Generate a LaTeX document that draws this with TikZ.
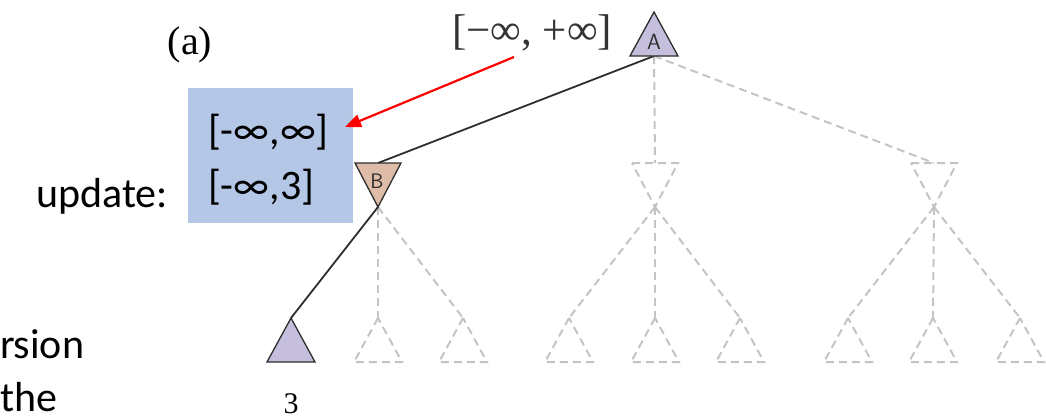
\documentclass[tikz,border=0pt]{standalone}
\usepackage{fontspec}
\setmainfont{Liberation Serif}
\newfontfamily\calfont{Carlito}
\usetikzlibrary{arrows.meta}
\definecolor{lav}{RGB}{198,190,221}
\definecolor{tan}{RGB}{222,188,168}
\definecolor{dgray}{RGB}{196,196,196}
\definecolor{boxblue}{RGB}{180,199,231}
\definecolor{edgec}{RGB}{45,45,45}
\tikzset{
  solidedge/.style={draw=edgec,line width=1.8pt},
  dashedge/.style={draw=dgray,line width=2pt,dash pattern=on 8pt off 5pt},
  trisolid/.style={draw=edgec,line width=1.3pt,line join=miter},
  tridash/.style={dashedge},
  lbl/.style={inner sep=0pt,outer sep=0pt},
  caltext/.style={lbl,font=\calfont\fontsize{42}{42}\selectfont},
}
% up triangle: name, cx, apex y, style
\newcommand\uptri[4]{%
  \path[#4] (#2,#3) -- (#2-24,#3+44) -- (#2+24,#3+44) -- cycle;
  \coordinate (#1) at (#2,#3);
  \coordinate (#1-b) at (#2,#3+44);
}
% down triangle: name, cx, top y, style
\newcommand\dntri[4]{%
  \path[#4] (#2-23,#3) -- (#2+23,#3) -- (#2,#3+44) -- cycle;
  \coordinate (#1-t) at (#2,#3);
  \coordinate (#1) at (#2,#3+44);
}
\begin{document}
\begin{tikzpicture}[x=1pt,y=-1pt]
\useasboundingbox (0,0) rectangle (1046,418);
% box
\node[fill=boxblue,minimum width=165pt,minimum height=135pt,inner sep=0pt,anchor=north west] (box) at (188,88) {};
\node[caltext,anchor=base west] (v1) at (208,144) {[-∞,∞]};
\node[caltext,anchor=base west] (v2) at (208,199) {[-∞,3]};
\node[caltext,anchor=base east] (upd) at (168,207) {update:};
\node[caltext,anchor=base west] (t1) at (0,358) {rsion};
\node[caltext,anchor=base west] (t2) at (0,411) {the};
\node[lbl,font=\fontsize{40}{40}\selectfont] (cap) at (190,45) {(a)};
\node[lbl,anchor=base,font=\fontsize{43}{43}\selectfont,text=black!80] (ab) at (532,44) {[−∞, +∞]};
% edge end points
\coordinate (Ab) at (654,56);
\coordinate (Bt) at (378,163);
\coordinate (Mt) at (655,163);
\coordinate (Rt) at (934,163);
\coordinate (Bx) at (378,207);
\coordinate (Mx) at (655,207);
\coordinate (Rx) at (934,207);
\coordinate (L1) at (291,318);
\coordinate (L2) at (378,318);
\coordinate (L3) at (463,318);
\coordinate (L4) at (569,318);
\coordinate (L5) at (655,318);
\coordinate (L6) at (740,318);
\coordinate (L7) at (848,318);
\coordinate (L8) at (933,318);
\coordinate (L9) at (1020,318);
\draw[dashedge] (Ab) -- (Mt);
\draw[dashedge] (Ab) -- (Rt);
\draw[dashedge] (Bx) -- (L2);
\draw[dashedge] (Bx) -- (L3);
\draw[dashedge] (Mx) -- (L4);
\draw[dashedge] (Mx) -- (L5);
\draw[dashedge] (Mx) -- (L6);
\draw[dashedge] (Rx) -- (L7);
\draw[dashedge] (Rx) -- (L8);
\draw[dashedge] (Rx) -- (L9);
\draw[solidedge] (Ab) -- (Bt);
\draw[solidedge] (Bx) -- (L1);
% triangles
\uptri{A}{654}{12}{trisolid,fill=lav}
\node[lbl,font=\sffamily\fontsize{22}{22}\selectfont,text=edgec] (Alab) at (654,42) {A};
\dntri{B}{378}{163}{trisolid,fill=tan}
\node[lbl,font=\sffamily\fontsize{21}{21}\selectfont,text=edgec] (Blab) at (377,181) {B};
\dntri{M}{655}{163}{tridash}
\dntri{R}{934}{163}{tridash}
\uptri{l1}{291}{318}{trisolid,fill=lav}
\uptri{l2}{378}{318}{tridash}
\uptri{l3}{463}{318}{tridash}
\uptri{l4}{569}{318}{tridash}
\uptri{l5}{655}{318}{tridash}
\uptri{l6}{740}{318}{tridash}
\uptri{l7}{848}{318}{tridash}
\uptri{l8}{933}{318}{tridash}
\uptri{l9}{1020}{318}{tridash}
\node[lbl,anchor=base,font=\fontsize{30}{30}\selectfont] (three) at (291,413) {3};
% red arrow
\coordinate (rs) at (514,57);
\coordinate (re) at (345,127);
\draw[red,line width=2.2pt,-{Triangle[length=16pt,width=13pt]}] (rs) -- (re);
\end{tikzpicture}
\end{document}
